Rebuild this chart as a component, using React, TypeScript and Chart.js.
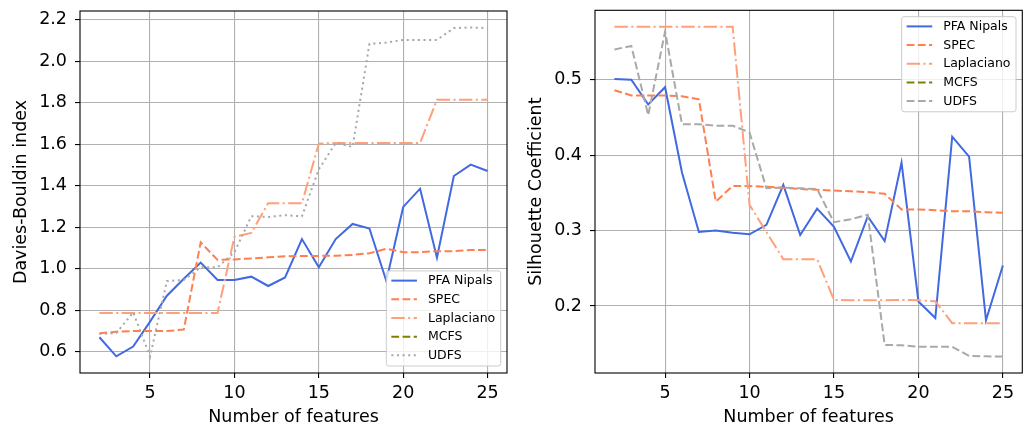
import React, { useEffect, useRef } from "react";
import { Chart, registerables } from "chart.js";

Chart.register(...registerables);

// ---------- data ----------
const features = [2, 3, 4, 5, 6, 7, 8, 9, 10, 11, 12, 13, 14, 15, 16, 17, 18, 19, 20, 21, 22, 23, 24, 25];
const seriesLabels = ["PFA Nipals", "SPEC", "Laplaciano", "MCFS", "UDFS"];

// Davies-Bouldin index (left)
const dbPFA = [0.670, 0.578, 0.625, 0.745, 0.870, 0.952, 1.030, 0.946, 0.946, 0.962, 0.917, 0.958, 1.143, 1.007, 1.143, 1.216, 1.194, 0.941, 1.298, 1.386, 1.053, 1.447, 1.502, 1.471];
const dbSPEC = [0.689, 0.697, 0.700, 0.700, 0.700, 0.707, 1.127, 1.043, 1.045, 1.050, 1.055, 1.060, 1.062, 1.062, 1.063, 1.067, 1.075, 1.096, 1.080, 1.080, 1.085, 1.085, 1.090, 1.090];
const dbLap = [0.787, 0.787, 0.787, 0.787, 0.787, 0.787, 0.787, 0.787, 1.154, 1.173, 1.316, 1.316, 1.316, 1.603, 1.606, 1.606, 1.606, 1.606, 1.606, 1.606, 1.814, 1.814, 1.814, 1.814];
const dbMCFS: (number | null)[] = []; // not visible in the reference
const dbUDFS = [0.686, 0.690, 0.790, 0.577, 0.941, 0.946, 1.007, 1.007, 1.080, 1.253, 1.250, 1.258, 1.253, 1.480, 1.606, 1.587, 2.084, 2.090, 2.103, 2.103, 2.103, 2.160, 2.163, 2.160];

// Silhouette coefficient (right)
const silPFA = [0.501, 0.500, 0.467, 0.490, 0.377, 0.298, 0.300, 0.297, 0.295, 0.3075, 0.3606, 0.294, 0.329, 0.305, 0.259, 0.3186, 0.286, 0.390, 0.206, 0.184, 0.4244, 0.398, 0.181, 0.2536];
const silSPEC = [0.486, 0.479, 0.479, 0.479, 0.478, 0.474, 0.3385, 0.359, 0.359, 0.358, 0.3566, 0.355, 0.354, 0.353, 0.352, 0.351, 0.3487, 0.328, 0.328, 0.327, 0.3257, 0.3255, 0.3244, 0.3235];
const silLap = [0.570, 0.570, 0.570, 0.570, 0.570, 0.570, 0.570, 0.570, 0.334, 0.298, 0.262, 0.262, 0.262, 0.208, 0.2075, 0.2075, 0.2077, 0.208, 0.2075, 0.2062, 0.1772, 0.1772, 0.1772, 0.177];
const silMCFS: (number | null)[] = []; // not visible in the reference
const silUDFS = [0.540, 0.5447, 0.453, 0.5637, 0.441, 0.441, 0.439, 0.439, 0.430, 0.356, 0.357, 0.356, 0.355, 0.311, 0.315, 0.321, 0.1484, 0.148, 0.146, 0.146, 0.146, 0.1338, 0.1333, 0.133];

// ticks
const xTicks = [5, 10, 15, 20, 25];
const dbTicks = [0.6, 0.8, 1.0, 1.2, 1.4, 1.6, 1.8, 2.0, 2.2];
const silTicks = [0.2, 0.3, 0.4, 0.5];

// axis limits
const xMin = 0.85;
const xMax = 26.15;
const dbMin = 0.4977;
const dbMax = 2.2423;
const silMin = 0.1112;
const silMax = 0.5919;

// ---------- styles ----------
const FONT = '"DejaVu Sans", sans-serif';
const AX_FONT = 17.5;
const colors = ["#4169E1", "#FF7F50", "#FFA07A", "#808000", "#A9A9A9"];
const DASHED = [7.8, 3.4];
const DASHDOT = [13.4, 3.4, 2.1, 3.4];
const DOTTED = [2.1, 3.5];

const framePlugin = {
  id: "frameLegend",
  afterDatasetsDraw(chart: any, _args: any, opts: any) {
    const { ctx, chartArea: a } = chart;
    ctx.save();
    // axes frame
    ctx.strokeStyle = "#000";
    ctx.lineWidth = 1.1;
    ctx.setLineDash([]);
    ctx.strokeRect(a.left, a.top, a.right - a.left, a.bottom - a.top);

    // legend
    const F = 12.5;
    ctx.font = `${F}px ${FONT}`;
    const ds = chart.data.datasets;
    const tw = Math.max(...ds.map((d: any) => ctx.measureText(d.label).width));
    const padL = 5;
    const handle = 25.6;
    const gap = 11;
    const w = padL + handle + gap + tw + 5.5;
    const rowH = 18.67;
    const h = 9.7 + rowH * (ds.length - 1) + 10.7;
    const x0 = a.right - 6.3 - w;
    const y0 = opts.corner === "br" ? a.bottom - 7 - h : a.top + 6.4;
    const r = 2.5;
    ctx.beginPath();
    ctx.moveTo(x0 + r, y0);
    ctx.lineTo(x0 + w - r, y0);
    ctx.quadraticCurveTo(x0 + w, y0, x0 + w, y0 + r);
    ctx.lineTo(x0 + w, y0 + h - r);
    ctx.quadraticCurveTo(x0 + w, y0 + h, x0 + w - r, y0 + h);
    ctx.lineTo(x0 + r, y0 + h);
    ctx.quadraticCurveTo(x0, y0 + h, x0, y0 + h - r);
    ctx.lineTo(x0, y0 + r);
    ctx.quadraticCurveTo(x0, y0, x0 + r, y0);
    ctx.closePath();
    ctx.fillStyle = "rgba(255,255,255,0.8)";
    ctx.fill();
    ctx.strokeStyle = "#cccccc";
    ctx.lineWidth = 1;
    ctx.stroke();

    ds.forEach((d: any, i: number) => {
      const cy = y0 + 9.7 + i * rowH;
      ctx.beginPath();
      ctx.setLineDash(d.borderDash || []);
      ctx.lineCap = "butt";
      ctx.strokeStyle = d.borderColor;
      ctx.lineWidth = d.borderWidth;
      ctx.moveTo(x0 + padL, cy);
      ctx.lineTo(x0 + padL + handle, cy);
      ctx.stroke();
      ctx.setLineDash([]);
      ctx.fillStyle = "#000";
      ctx.textBaseline = "middle";
      ctx.textAlign = "left";
      ctx.fillText(d.label, x0 + padL + handle + gap, cy + 0.5);
    });
    ctx.restore();
  },
};

function makeDatasets(series: (number | null)[][], dashes: (number[] | undefined)[]) {
  return series.map((vals, i) => ({
    label: seriesLabels[i],
    data: vals.map((v, j) => ({ x: features[j], y: v })),
    borderColor: colors[i],
    backgroundColor: colors[i],
    borderWidth: 2,
    borderDash: dashes[i],
    borderCapStyle: "butt" as const,
    pointRadius: 0,
    tension: 0,
    fill: false,
    order: series.length - 1 - i,
  }));
}

function makeConfig(
  datasets: any[],
  yTicks: number[],
  yMin: number,
  yMax: number,
  yTitle: string,
  yWidth: number,
  padTop: number,
  padRight: number,
  titlePad: number,
  corner: string
): any {
  const grid = { color: "#b0b0b0", lineWidth: 1.1, tickColor: "#000", tickLength: 5 };
  return {
    type: "line",
    data: { datasets },
    plugins: [framePlugin],
    options: {
      animation: false,
      responsive: false,
      maintainAspectRatio: false,
      layout: { padding: { left: 0, right: padRight, top: padTop, bottom: 0 } },
      plugins: {
        legend: { display: false },
        tooltip: { enabled: false },
        frameLegend: { corner },
      },
      scales: {
        x: {
          type: "linear",
          min: xMin,
          max: xMax,
          afterBuildTicks: (s: any) => {
            s.ticks = xTicks.map((v) => ({ value: v }));
          },
          afterFit: (s: any) => {
            s.height = 56;
            s.paddingLeft = 0;
            s.paddingRight = 0;
          },
          ticks: {
            font: { size: AX_FONT, family: FONT },
            color: "#000",
            padding: 5,
            maxRotation: 0,
            autoSkip: false,
            callback: (v: any) => String(v),
          },
          grid,
          border: { display: false },
          title: {
            display: true,
            text: "Number of features",
            font: { size: AX_FONT, family: FONT },
            color: "#000",
            padding: { top: 0, bottom: 1 },
          },
        },
        y: {
          type: "linear",
          position: "left",
          min: yMin,
          max: yMax,
          afterBuildTicks: (s: any) => {
            s.ticks = yTicks.map((v) => ({ value: v }));
          },
          afterFit: (s: any) => {
            s.width = yWidth;
            s.paddingTop = 0;
            s.paddingBottom = 0;
          },
          ticks: {
            font: { size: AX_FONT, family: FONT },
            color: "#000",
            padding: 8,
            autoSkip: false,
            callback: (v: any) => Number(v).toFixed(1),
          },
          grid,
          border: { display: false },
          title: {
            display: true,
            text: yTitle,
            font: { size: AX_FONT, family: FONT },
            color: "#000",
            padding: { top: titlePad, bottom: 0 },
          },
        },
      },
    },
  };
}

function ChartCanvas({ config, left }: { config: any; left: number }) {
  const ref = useRef<HTMLCanvasElement | null>(null);
  useEffect(() => {
    if (!ref.current) return;
    const chart = new Chart(ref.current, config);
    return () => chart.destroy();
  }, [config]);
  return (
    <canvas
      ref={ref}
      width={516}
      height={429}
      style={{ position: "absolute", left, top: 0, width: 516, height: 429 }}
    />
  );
}

const leftConfig = makeConfig(
  makeDatasets([dbPFA, dbSPEC, dbLap, dbMCFS, dbUDFS], [undefined, DASHED, DASHDOT, DASHED, DOTTED]),
  dbTicks,
  dbMin,
  dbMax,
  "Davies-Bouldin index",
  80,
  11,
  9,
  11.2,
  "br"
);

const rightConfig = makeConfig(
  makeDatasets([silPFA, silSPEC, silLap, silMCFS, silUDFS], [undefined, DASHED, DASHDOT, DASHED, DASHED]),
  silTicks,
  silMin,
  silMax,
  "Silhouette Coefficient",
  79,
  10.3,
  9.7,
  10.2,
  "tr"
);

export default function App() {
  Chart.defaults.font.family = FONT;
  return (
    <div
      style={{
        position: "fixed",
        left: 0,
        top: 0,
        width: 1032,
        height: 429,
        background: "#fff",
        overflow: "hidden",
      }}
    >
      <ChartCanvas config={leftConfig} left={0} />
      <ChartCanvas config={rightConfig} left={516} />
    </div>
  );
}
